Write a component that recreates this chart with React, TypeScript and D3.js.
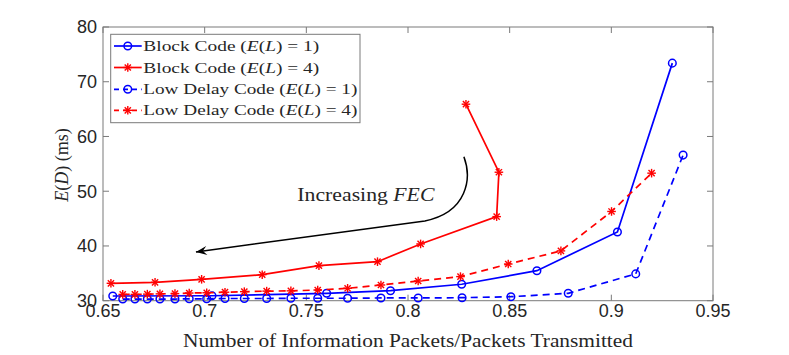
import React from "react";
import * as d3 from "d3";

const xTicks = [0.65, 0.7, 0.75, 0.8, 0.85, 0.9, 0.95];
const yTicks = [30, 40, 50, 60, 70, 80];

const blockL1X = [0.6548, 0.7036, 0.76, 0.7914, 0.8264, 0.8634, 0.903, 0.93];
const blockL1Y = [30.86, 30.9, 31.35, 31.83, 33.0, 35.48, 42.56, 73.4];

const blockL4X = [0.6539, 0.6756, 0.6985, 0.7283, 0.7562, 0.785, 0.8062, 0.8436, 0.8447, 0.8285];
const blockL4Y = [33.18, 33.36, 33.91, 34.75, 36.4, 37.13, 40.37, 45.36, 53.47, 65.9];

const lowL1X = [0.6597, 0.6657, 0.6718, 0.678, 0.6854, 0.6924, 0.701, 0.71, 0.7195, 0.7305, 0.7424, 0.7556, 0.7703, 0.7867, 0.805, 0.8266, 0.8506, 0.8788, 0.912, 0.9353];
const lowL1Y = [30.3, 30.3, 30.3, 30.3, 30.3, 30.35, 30.35, 30.4, 30.4, 30.4, 30.45, 30.45, 30.45, 30.5, 30.5, 30.55, 30.73, 31.35, 34.9, 56.6];

const lowL4X = [0.6597, 0.6657, 0.6718, 0.678, 0.6854, 0.6924, 0.701, 0.71, 0.7195, 0.7305, 0.7424, 0.7556, 0.7703, 0.7867, 0.805, 0.8258, 0.8493, 0.8752, 0.9001, 0.9198];
const lowL4Y = [31.15, 31.15, 31.2, 31.25, 31.3, 31.4, 31.45, 31.55, 31.65, 31.75, 31.8, 31.95, 32.27, 32.87, 33.6, 34.4, 36.7, 39.1, 46.3, 53.3];

const legendLabels = ["Block Code", "Block Code", "Low Delay Code", "Low Delay Code"];
const legendValues = ["1", "4", "1", "4"];

// annotation (data coordinates)
const arrowPath = [
  [0.8275, 56.3],
  [0.8314, 52.4],
  [0.8294, 46.2],
  [0.8083, 44.57],
  [0.6957, 38.9],
];
const annotText = { x: 0.7456, y: 48.3 };

const W = 789;
const H = 355;
const L = 103, R = 713, T = 27, B = 300.7;

const BLUE = "#0000ff";
const RED = "#ff0000";
const AX = "#7a7a7a";
const TXT = "#262626";

const x = d3.scaleLinear().domain([0.65, 0.95]).range([L, R]);
const y = d3.scaleLinear().domain([30, 80]).range([B, T]);

type Series = { xs: number[]; ys: number[]; color: string; dash: string | null; marker: "o" | "*" };

const series: Series[] = [
  { xs: blockL1X, ys: blockL1Y, color: BLUE, dash: null, marker: "o" },
  { xs: blockL4X, ys: blockL4Y, color: RED, dash: null, marker: "*" },
  { xs: lowL1X, ys: lowL1Y, color: BLUE, dash: "7,5", marker: "o" },
  { xs: lowL4X, ys: lowL4Y, color: RED, dash: "7,5", marker: "*" },
];

function Marker({ cx, cy, type, color }: { cx: number; cy: number; type: "o" | "*"; color: string }) {
  if (type === "o") {
    return <circle cx={cx} cy={cy} r={3.8} fill="none" stroke={color} strokeWidth={1.5} />;
  }
  const s = 4.3;
  const d = s * 0.72;
  return (
    <g stroke={color} strokeWidth={1.4}>
      <line x1={cx - s} y1={cy} x2={cx + s} y2={cy} />
      <line x1={cx} y1={cy - s} x2={cx} y2={cy + s} />
      <line x1={cx - d} y1={cy - d} x2={cx + d} y2={cy + d} />
      <line x1={cx - d} y1={cy + d} x2={cx + d} y2={cy - d} />
    </g>
  );
}

export default function App() {
  const line = d3
    .line<[number, number]>()
    .x((d) => x(d[0]))
    .y((d) => y(d[1]));

  const ap = arrowPath.map(([a, b]) => [x(a), y(b)]);
  const curve = `M${ap[0][0]},${ap[0][1]} C${ap[1][0]},${ap[1][1]} ${ap[2][0]},${ap[2][1]} ${ap[3][0]},${ap[3][1]} L${ap[4][0]},${ap[4][1]}`;
  const tip = ap[4];
  const ang = Math.atan2(ap[4][1] - ap[3][1], ap[4][0] - ap[3][0]);
  const hl = 11, hw = 4.5, back = 7;
  const ux = Math.cos(ang), uy = Math.sin(ang);
  const px = -uy, py = ux;
  const head = [
    [tip[0], tip[1]],
    [tip[0] - ux * hl + px * hw, tip[1] - uy * hl + py * hw],
    [tip[0] - ux * back, tip[1] - uy * back],
    [tip[0] - ux * hl - px * hw, tip[1] - uy * hl - py * hw],
  ];

  const serif = "'Liberation Serif', 'DejaVu Serif', serif";
  const sans = "'Liberation Sans', Arial, sans-serif";

  const legX = 110.7, legY = 34.3, legW = 249.3, legH = 88.4;
  const rowY = [46, 67.5, 89.3, 110.3];
  const rowW = [176, 176, 214, 214];

  return (
    <svg width={W} height={H} style={{ position: "absolute", left: 0, top: 0 }} xmlns="http://www.w3.org/2000/svg">
      <rect x={0} y={0} width={W} height={H} fill="#fff" />
      {/* axes box */}
      <rect x={L} y={T} width={R - L} height={B - T} fill="#fff" stroke={AX} strokeWidth={1} />
      {/* ticks */}
      {xTicks.map((t) => (
        <g key={"xt" + t}>
          <line x1={x(t)} x2={x(t)} y1={B} y2={B - 6} stroke={AX} />
          <line x1={x(t)} x2={x(t)} y1={T} y2={T + 6} stroke={AX} />
          <text x={x(t)} y={316.5} textAnchor="middle" fontFamily={sans} fontSize={18} fill={TXT}>
            {String(t)}
          </text>
        </g>
      ))}
      {yTicks.map((t) => (
        <g key={"yt" + t}>
          <line x1={L} x2={L + 6} y1={y(t)} y2={y(t)} stroke={AX} />
          <line x1={R} x2={R - 6} y1={y(t)} y2={y(t)} stroke={AX} />
          <text x={97} y={y(t) + 6.3} textAnchor="end" fontFamily={sans} fontSize={18} fill={TXT}>
            {String(t)}
          </text>
        </g>
      ))}

      {/* series */}
      {series.map((s, i) => {
        const pts = s.xs.map((v, j) => [v, s.ys[j]] as [number, number]);
        return (
          <g key={"s" + i}>
            <path d={line(pts) || ""} fill="none" stroke={s.color} strokeWidth={1.7} strokeDasharray={s.dash || undefined} />
            {pts.map((p, j) => (
              <Marker key={j} cx={x(p[0])} cy={y(p[1])} type={s.marker} color={s.color} />
            ))}
          </g>
        );
      })}

      {/* annotation */}
      <path d={curve} fill="none" stroke="#000" strokeWidth={1.5} />
      <polygon points={head.map((p) => p.join(",")).join(" ")} fill="#000" />
      <text x={x(annotText.x)} y={y(annotText.y)} fontFamily={serif} fontSize={19} fill={TXT} textLength={137} lengthAdjust="spacingAndGlyphs">
        Increasing <tspan fontStyle="italic">FEC</tspan>
      </text>

      {/* legend */}
      <rect x={legX} y={legY} width={legW} height={legH} fill="#fff" stroke={AX} strokeWidth={1} />
      {series.map((s, i) => (
        <g key={"lg" + i}>
          <line x1={114} x2={141.7} y1={rowY[i]} y2={rowY[i]} stroke={s.color} strokeWidth={1.7} strokeDasharray={s.dash ? "5,4" : undefined} />
          <Marker cx={127.8} cy={rowY[i]} type={s.marker} color={s.color} />
          <text x={143.3} y={rowY[i] + 5} fontFamily={serif} fontSize={15} fill={TXT} textLength={rowW[i]} lengthAdjust="spacingAndGlyphs">
            {legendLabels[i]} (<tspan fontStyle="italic">E</tspan>(<tspan fontStyle="italic">L</tspan>) = {legendValues[i]})
          </text>
        </g>
      ))}

      {/* axis labels */}
      <text x={(L + R) / 2} y={346.5} textAnchor="middle" fontFamily={serif} fontSize={18} fill={TXT} textLength={450} lengthAdjust="spacingAndGlyphs">
        Number of Information Packets/Packets Transmitted
      </text>
      <text transform={`translate(68,165) rotate(-90)`} textAnchor="middle" fontFamily={serif} fontSize={18} fill={TXT}>
        <tspan fontStyle="italic">E</tspan>(<tspan fontStyle="italic">D</tspan>) (ms)
      </text>
    </svg>
  );
}
